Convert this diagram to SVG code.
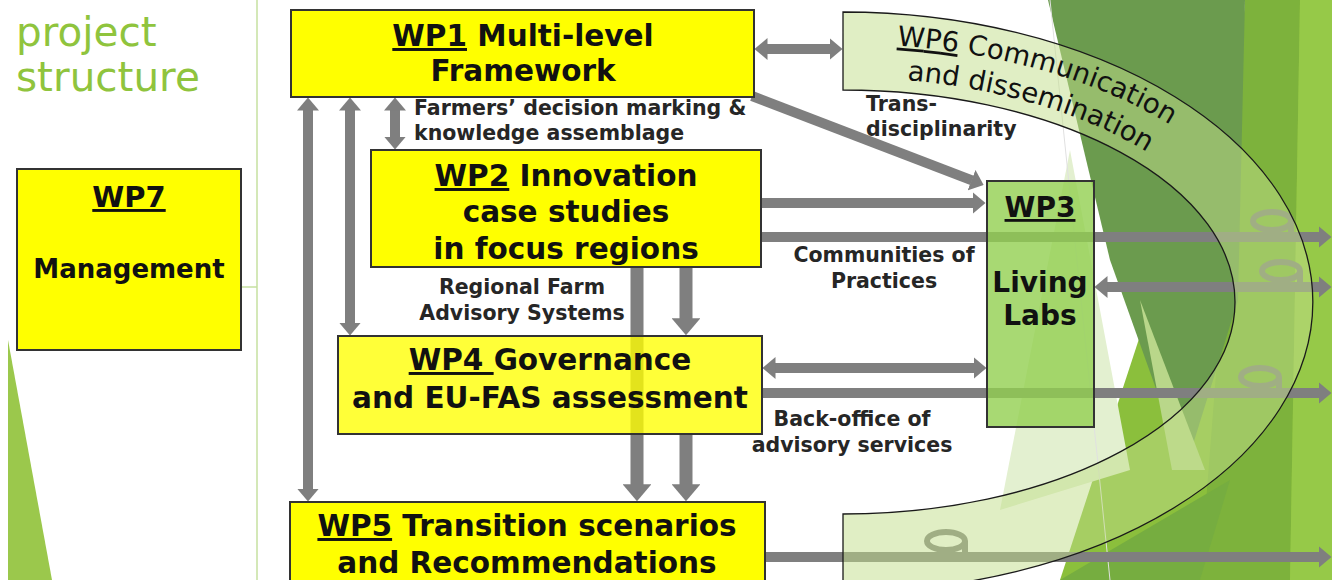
<svg xmlns="http://www.w3.org/2000/svg" width="1332" height="580" viewBox="0 0 1332 580">
<defs>
<style>
.wp{fill:#ffff00;stroke:#333;stroke-width:2}
.wp4{fill:#ffff00;fill-opacity:0.78;stroke:#333;stroke-width:2}
.wp3{fill:#92d050;fill-opacity:0.8;stroke:#333;stroke-width:2}
.t{font-family:"DejaVu Sans",sans-serif;font-weight:bold;font-size:29.5px;fill:#111;text-anchor:middle}
.t3{font-family:"DejaVu Sans",sans-serif;font-weight:bold;font-size:28px;fill:#111;text-anchor:middle}
.t6{font-family:"DejaVu Sans",sans-serif;font-size:27.5px;fill:#111}
.lb{font-family:"DejaVu Sans",sans-serif;font-weight:bold;font-size:20.5px;fill:#262626}
.mid{text-anchor:middle}
.u{text-decoration:underline}
.ar{stroke:#7f7f7f;stroke-width:10;fill:none}
.thick{stroke-width:13}
.loop{fill:none;stroke:#7f7f7f;stroke-width:6}
.title{font-family:"DejaVu Sans",sans-serif;font-size:40.5px;fill:#8fc43d}
</style>
<marker id="ah" viewBox="0 0 13 22" refX="0.5" refY="11" markerWidth="1.3" markerHeight="2.2" markerUnits="strokeWidth" orient="auto-start-reverse"><path d="M0,0 L13,11 L0,22 Z" fill="#7f7f7f"/></marker>
<path id="p6a" d="M 897 45.7 A 446 258 0 0 1 843 560"/>
<path id="p6b" d="M 907 80 A 412 225 0 0 1 843 527"/>
</defs>

<g id="background">
<polygon points="1250,0 1332,0 1332,580 1060,580" fill="#8bbf3c"/>
<polygon points="1245,0 1300,0 1290,580 1200,580" fill="#7db23c"/>
<polygon points="1300,0 1332,0 1332,580 1290,580" fill="#96c948"/>
<polygon points="1048,0 1245,0 1238,300 1185,470 1110,260" fill="#6b9b4e"/>
<polygon points="1070,150 1130,470 1000,510" fill="#e3f0d0"/>
<polygon points="1140,300 1205,470 1172,470" fill="#b9d78a"/>
<polygon points="1060,580 1200,580 1230,480" fill="#76ad40"/>
<line x1="1050" y1="0" x2="1110" y2="580" stroke="#e0e0e0" stroke-width="1"/>
<polygon points="8,340 52,580 8,580" fill="#9bc84c"/>
<line x1="257" y1="0" x2="257" y2="580" stroke="#c6e0a0" stroke-width="1.5"/>
<line x1="241" y1="287" x2="257" y2="287" stroke="#c6e0a0" stroke-width="1.5"/>
</g>

<g id="title">
<text class="title" x="16" y="46">project</text>
<text class="title" x="16" y="91">structure</text>
</g>

<g id="wp7">
<rect class="wp" x="17" y="169" width="224" height="181"/>
<text class="t" x="129" y="207" style="font-size:29px"><tspan class="u">WP7</tspan></text>
<text class="t" x="129" y="278" style="font-size:26px">Management</text>
</g>

<g id="connectors">
<line class="ar" x1="767" y1="49" x2="830" y2="49" marker-start="url(#ah)" marker-end="url(#ah)"/>
<line class="ar" x1="752" y1="96" x2="972" y2="180.4" marker-end="url(#ah)"/>
<line class="ar" x1="395" y1="110" x2="395" y2="137" marker-start="url(#ah)" marker-end="url(#ah)"/>
<line class="ar" x1="308" y1="110" x2="308" y2="489" marker-start="url(#ah)" marker-end="url(#ah)"/>
<line class="ar" x1="350" y1="110" x2="350" y2="323" marker-start="url(#ah)" marker-end="url(#ah)"/>
<line class="ar" x1="761" y1="203" x2="973" y2="203" marker-end="url(#ah)"/>
<line class="ar" x1="761" y1="237" x2="1319" y2="237" marker-end="url(#ah)"/>
<line class="ar" x1="1107" y1="287" x2="1319" y2="287" marker-start="url(#ah)" marker-end="url(#ah)"/>
<line class="ar" x1="775" y1="368" x2="974" y2="368" marker-start="url(#ah)" marker-end="url(#ah)"/>
<line class="ar" x1="762" y1="393" x2="1319" y2="393" marker-end="url(#ah)"/>
<line class="ar thick" x1="686" y1="267" x2="686" y2="319" marker-end="url(#ah)"/>
<line class="ar thick" x1="637" y1="267" x2="637" y2="485" marker-end="url(#ah)"/>
<line class="ar thick" x1="686" y1="434" x2="686" y2="485" marker-end="url(#ah)"/>
<line class="ar" x1="765" y1="557" x2="1319" y2="557" marker-end="url(#ah)"/>
<ellipse class="loop" cx="1272" cy="221" rx="19" ry="9"/>
<line class="loop" x1="1291" y1="221" x2="1291" y2="237"/>
<ellipse class="loop" cx="1281" cy="271" rx="19" ry="9"/>
<line class="loop" x1="1300" y1="271" x2="1300" y2="287"/>
<ellipse class="loop" cx="1260" cy="377" rx="19" ry="9"/>
<line class="loop" x1="1279" y1="377" x2="1279" y2="393"/>
<ellipse class="loop" cx="946" cy="541" rx="19" ry="9"/>
<line class="loop" x1="965" y1="541" x2="965" y2="557"/>
</g>

<g id="labels">
<text class="lb" x="414" y="115">Farmers’ decision marking &amp;</text>
<text class="lb" x="414" y="140">knowledge assemblage</text>
<text class="lb" x="866" y="111">Trans-</text>
<text class="lb" x="866" y="136">disciplinarity</text>
<text class="lb mid" x="884" y="262">Communities of</text>
<text class="lb mid" x="884" y="288">Practices</text>
<text class="lb mid" x="522" y="294">Regional Farm</text>
<text class="lb mid" x="522" y="320">Advisory Systems</text>
<text class="lb mid" x="852" y="426">Back-office of</text>
<text class="lb mid" x="852" y="452">advisory services</text>
</g>

<g id="wp1">
<rect class="wp" x="291" y="10" width="463" height="87"/>
<text class="t" x="523" y="46"><tspan class="u">WP1</tspan> Multi-level</text>
<text class="t" x="523" y="81">Framework</text>
</g>

<g id="wp2">
<rect class="wp" x="371" y="150" width="390" height="117"/>
<text class="t" x="566" y="186"><tspan class="u">WP2</tspan> Innovation</text>
<text class="t" x="566" y="222">case studies</text>
<text class="t" x="566" y="259">in focus regions</text>
</g>

<g id="wp4">
<rect class="wp4" x="338" y="336" width="424" height="98"/>
<text class="t" x="550" y="370"><tspan class="u">WP4 </tspan>Governance</text>
<text class="t" x="550" y="408">and EU-FAS assessment</text>
</g>

<g id="wp5">
<rect class="wp" x="290" y="502" width="475" height="90"/>
<text class="t" x="527" y="536"><tspan class="u">WP5</tspan> Transition scenarios</text>
<text class="t" x="527" y="573">and Recommendations</text>
</g>

<g id="wp3">
<rect class="wp3" x="987" y="181" width="107" height="246"/>
<text class="t3" x="1040" y="217"><tspan class="u">WP3</tspan></text>
<text class="t3" x="1040" y="292">Living</text>
<text class="t3" x="1040" y="325">Labs</text>
</g>

<g id="wp6">
<path d="M 843 12 A 470 290 0 0 1 843 592 L 843 514 A 392 212 0 0 0 843 90 Z" fill="#c2de8a" fill-opacity="0.5" stroke="#1a1a1a" stroke-width="1.3"/>
<text class="t6"><textPath href="#p6a"><tspan class="u">WP6</tspan> Communication</textPath></text>
<text class="t6"><textPath href="#p6b">and dissemination</textPath></text>
</g>
</svg>
